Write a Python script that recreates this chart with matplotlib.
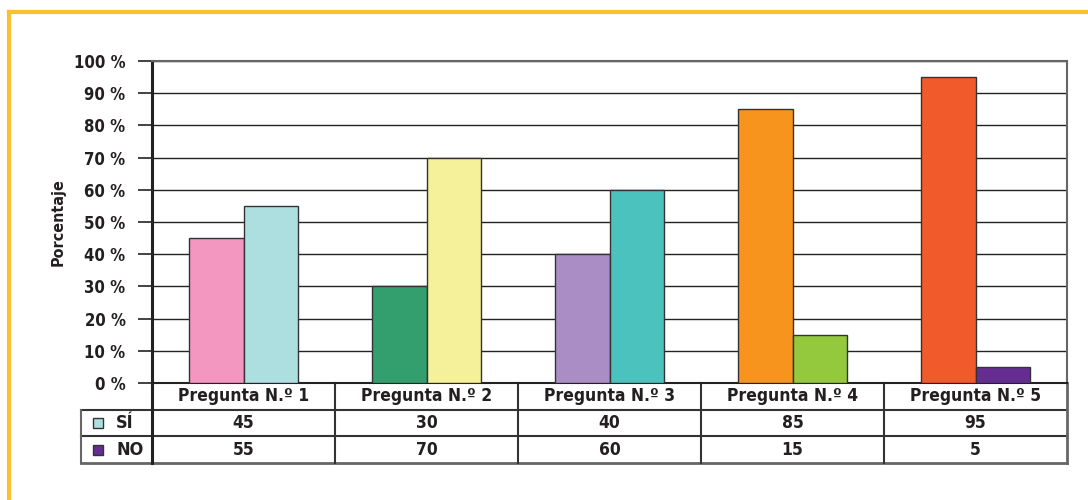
import matplotlib.pyplot as plt
import matplotlib.transforms as mtransforms
from matplotlib.patches import Rectangle
from matplotlib import font_manager
import numpy as np

nombres = {f.name: f.stretch for f in font_manager.fontManager.ttflist}
if 'Liberation Sans Narrow' in nombres:
    plt.rcParams['font.family'] = ['Liberation Sans Narrow', 'DejaVu Sans']
else:
    plt.rcParams['font.family'] = ['DejaVu Sans']
    plt.rcParams['font.stretch'] = 'condensed'
plt.rcParams['font.weight'] = 'bold'

preguntas = ['Pregunta N.º 1', 'Pregunta N.º 2', 'Pregunta N.º 3', 'Pregunta N.º 4', 'Pregunta N.º 5']
si = [45, 30, 40, 85, 95]
no = [55, 70, 60, 15, 5]
colores_si = ['#F397C0', '#339E6E', '#A98DC4', '#F7941E', '#F15A2B']
colores_no = ['#AEDFE0', '#F5F09A', '#4BC2BE', '#94C83D', '#662D91']
yticks = [0, 10, 20, 30, 40, 50, 60, 70, 80, 90, 100]

fig = plt.figure(figsize=(10.88, 5.0), dpi=100)
ax = fig.add_axes([152 / 1088, 117 / 500, 915 / 1088, 322 / 500])

x = np.arange(len(preguntas))
w = 0.3
ax.bar(x - w / 2, si, w, color=colores_si, edgecolor='#333333', linewidth=1, zorder=3)
ax.bar(x + w / 2, no, w, color=colores_no, edgecolor='#333333', linewidth=1, zorder=3)

ax.set_xlim(-0.5, len(preguntas) - 0.5)
ax.set_ylim(0, 100)
ax.set_yticks(yticks)
ax.set_yticklabels([f'{v} %' for v in yticks], fontsize=12, fontweight='bold', color='#231F20')
ax.tick_params(axis='y', length=10, width=1.2, pad=9, color='#222222')
ax.set_xticks([])
ax.grid(axis='y', color='#222222', linewidth=1, zorder=0)
ax.set_ylabel('Porcentaje', fontsize=11.5, fontweight='bold', color='#231F20')
ax.yaxis.set_label_coords(-86 / 915, 0.5)

for s in ['top', 'right']:
    ax.spines[s].set_color('#666666')
    ax.spines[s].set_linewidth(1.5)
ax.spines['left'].set_linewidth(2.2)
ax.spines['left'].set_color('#222222')
ax.spines['bottom'].set_linewidth(1.5)
ax.spines['bottom'].set_color('#222222')

# tabla de datos
trans = mtransforms.blended_transform_factory(ax.transData, ax.transAxes)
row_h = 80 / 322 / 3
y_rows = [0, -row_h, -2 * row_h, -3 * row_h]
x_lab = -0.5 - 71 / 183
n = len(preguntas)
lk = dict(transform=trans, clip_on=False, color='#333333', linewidth=1.5)

ax.plot([x_lab, n - 0.5], [y_rows[1]] * 2, **lk)
ax.plot([x_lab, n - 0.5], [y_rows[2]] * 2, **lk)
ax.plot([x_lab, n - 0.5], [y_rows[3]] * 2, color='#666666', linewidth=2,
        transform=trans, clip_on=False)
ax.plot([x_lab, x_lab], [y_rows[1], y_rows[3]], color='#666666', linewidth=1.5,
        transform=trans, clip_on=False)
ax.plot([-0.5, -0.5], [0, y_rows[3]], color='#222222', linewidth=2.2,
        transform=trans, clip_on=False)
for i in range(1, n):
    ax.plot([i - 0.5, i - 0.5], [0, y_rows[3]], **lk)
ax.plot([n - 0.5, n - 0.5], [0, y_rows[3]], color='#666666', linewidth=2,
        transform=trans, clip_on=False)

tk = dict(transform=trans, ha='center', va='center', fontsize=12.5, fontweight='bold',
          color='#231F20')
for i in range(n):
    ax.text(i, (y_rows[0] + y_rows[1]) / 2, preguntas[i], **tk)
    ax.text(i, (y_rows[1] + y_rows[2]) / 2, str(si[i]), **tk)
    ax.text(i, (y_rows[2] + y_rows[3]) / 2, str(no[i]), **tk)

for j, (nombre, col) in enumerate([('SÍ', '#AEDFE0'), ('NO', '#662D91')]):
    yc = (y_rows[j + 1] + y_rows[j + 2]) / 2
    sq = Rectangle((x_lab + 12 / 183, yc - 5 / 322), 10 / 183, 10 / 322, facecolor=col,
                   edgecolor='#333333', linewidth=1, transform=trans, clip_on=False)
    ax.add_patch(sq)
    ax.text(x_lab + 35 / 183, yc, nombre, transform=trans, ha='left', va='center',
            fontsize=13, fontweight='bold', color='#231F20')

# marco amarillo
fig.add_artist(plt.Line2D([9 / 1088, 1], [488 / 500, 488 / 500], color='#FBC02D', linewidth=3))
fig.add_artist(plt.Line2D([9 / 1088, 9 / 1088], [0, 488 / 500], color='#FBC02D', linewidth=3))

fig.savefig('out.png', dpi=100)
